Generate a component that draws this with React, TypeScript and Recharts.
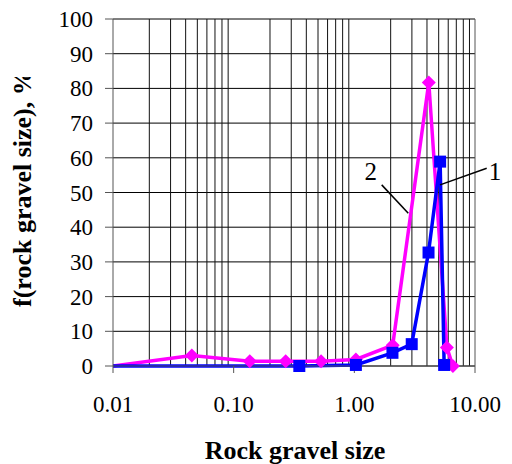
import React from 'react';
import {
  LineChart,
  Line,
  XAxis,
  YAxis,
  CartesianGrid,
  ReferenceLine,
  ReferenceDot,
} from 'recharts';

// curve 1 (blue squares)
const sizes1 = [0.01, 0.35, 1.03, 2.07, 2.99, 4.12, 5.14, 5.55];
const freq1 = [0, 0, 0.3, 3.8, 6.3, 32.7, 58.9, 0.3];

// curve 2 (magenta diamonds)
const sizes2 = [0.01, 0.045, 0.136, 0.27, 0.53, 1.03, 2.08, 4.14, 5.85, 6.56];
const freq2 = [0, 3, 1.4, 1.4, 1.4, 1.9, 6, 81.7, 5.3, 0];

const xTicks = [0.01, 0.1, 1, 10];
const yTicks = [0, 10, 20, 30, 40, 50, 60, 70, 80, 90, 100];

// log minor grid: 2..9 in each decade
const decades = [0.01, 0.1, 1];
const minorGrid = decades.flatMap((d) => [2, 3, 4, 5, 6, 7, 8, 9].map((m) => +(d * m).toPrecision(3)));

// curve labels with leader lines, [x1, y1, x2, y2]
const callouts = [
  { text: '2', at: [1.367, 56], line: [1.686, 52.2, 2.8, 44.0] },
  { text: '1', at: [14.65, 56], line: [12.5, 57.0, 5.13, 52.2] },
];

const data1 = sizes1.map((x, i) => ({ x, f: freq1[i] }));
const data2 = sizes2.map((x, i) => ({ x, f: freq2[i] }));

const FONT = 'Liberation Serif';

const SquareDot = (props: any) => {
  const { cx, cy, index } = props;
  if (index === 0 || cx == null) return <g key={`s-${index}`} />;
  return <rect key={`s-${index}`} x={cx - 6} y={cy - 6} width={12} height={12} fill="#0000ff" />;
};

const DiamondDot = (props: any) => {
  const { cx, cy, index } = props;
  if (index === 0 || cx == null) return <g key={`d-${index}`} />;
  const r = 7;
  return (
    <polygon
      key={`d-${index}`}
      points={`${cx},${cy - r} ${cx + r},${cy} ${cx},${cy + r} ${cx - r},${cy}`}
      fill="#ff00ff"
    />
  );
};

const XTick = ({ x, y, payload }: any) => (
  <text x={x} y={y + 37} textAnchor="middle" fontFamily={FONT} fontSize={23} fill="#000">
    {Number(payload.value).toFixed(2)}
  </text>
);

const YTick = ({ x, y, payload }: any) => (
  <text x={x - 10} y={y + 8} textAnchor="end" fontFamily={FONT} fontSize={23} fill="#000">
    {payload.value}
  </text>
);

const CalloutText = (text: string) => (props: any) => {
  const vb = props.viewBox || {};
  const cx = vb.cx ?? vb.x;
  const cy = vb.cy ?? vb.y;
  return (
    <text x={cx} y={cy + 8} textAnchor="middle" fontFamily={FONT} fontSize={25} fill="#000">
      {text}
    </text>
  );
};

export default function App() {
  return (
    <div
      style={{ position: 'absolute', left: 0, top: 0, width: 512, height: 464, background: '#fff', fontFamily: FONT }}
    >
      <LineChart width={512} height={464} margin={{ top: 19, right: 37, bottom: 38, left: 0 }}>
        <CartesianGrid vertical={false} stroke="#000" strokeWidth={1} />
        {minorGrid.map((v) => (
          <ReferenceLine key={v} x={v} stroke="#111" strokeWidth={1} />
        ))}
        <ReferenceLine x={10} stroke="#555" strokeWidth={1} />
        <XAxis
          type="number"
          dataKey="x"
          scale="log"
          domain={[0.01, 10]}
          allowDataOverflow
          ticks={xTicks}
          height={60}
          tickSize={7}
          stroke="#555"
          tick={XTick}
        />
        <YAxis
          type="number"
          domain={[0, 100]}
          ticks={yTicks}
          width={113}
          tickSize={8}
          stroke="#555"
          tick={YTick}
        />
        <Line
          data={data2}
          dataKey="f"
          stroke="#ff00ff"
          strokeWidth={3.5}
          dot={DiamondDot}
          activeDot={false}
          isAnimationActive={false}
        />
        <Line
          data={data1}
          dataKey="f"
          stroke="#0000ff"
          strokeWidth={3.5}
          dot={SquareDot}
          activeDot={false}
          isAnimationActive={false}
        />
        {callouts.map((c) => (
          <ReferenceLine
            key={`l${c.text}`}
            segment={[
              { x: c.line[0], y: c.line[1] },
              { x: c.line[2], y: c.line[3] },
            ]}
            stroke="#000"
            strokeWidth={1.5}
            ifOverflow="visible"
          />
        ))}
        {callouts.map((c) => (
          <ReferenceDot
            key={`t${c.text}`}
            x={c.at[0]}
            y={c.at[1]}
            r={0}
            fill="none"
            stroke="none"
            ifOverflow="visible"
            label={{ content: CalloutText(c.text) }}
          />
        ))}
      </LineChart>
      <svg width={512} height={464} style={{ position: 'absolute', left: 0, top: 0, pointerEvents: 'none' }}>
        <defs>
          <clipPath id="ytitle">
            <rect x={0} y={77} width={60} height={255} />
          </clipPath>
        </defs>
        <g clipPath="url(#ytitle)">
          <text
            transform="translate(31,307) rotate(-90)"
            fontFamily={FONT}
            fontWeight="bold"
            fontSize={26}
            fill="#000"
          >
            f(rock gravel size), %
          </text>
        </g>
        <text x={295} y={459} textAnchor="middle" fontFamily={FONT} fontWeight="bold" fontSize={26} fill="#000">
          Rock gravel size
        </text>
      </svg>
    </div>
  );
}
